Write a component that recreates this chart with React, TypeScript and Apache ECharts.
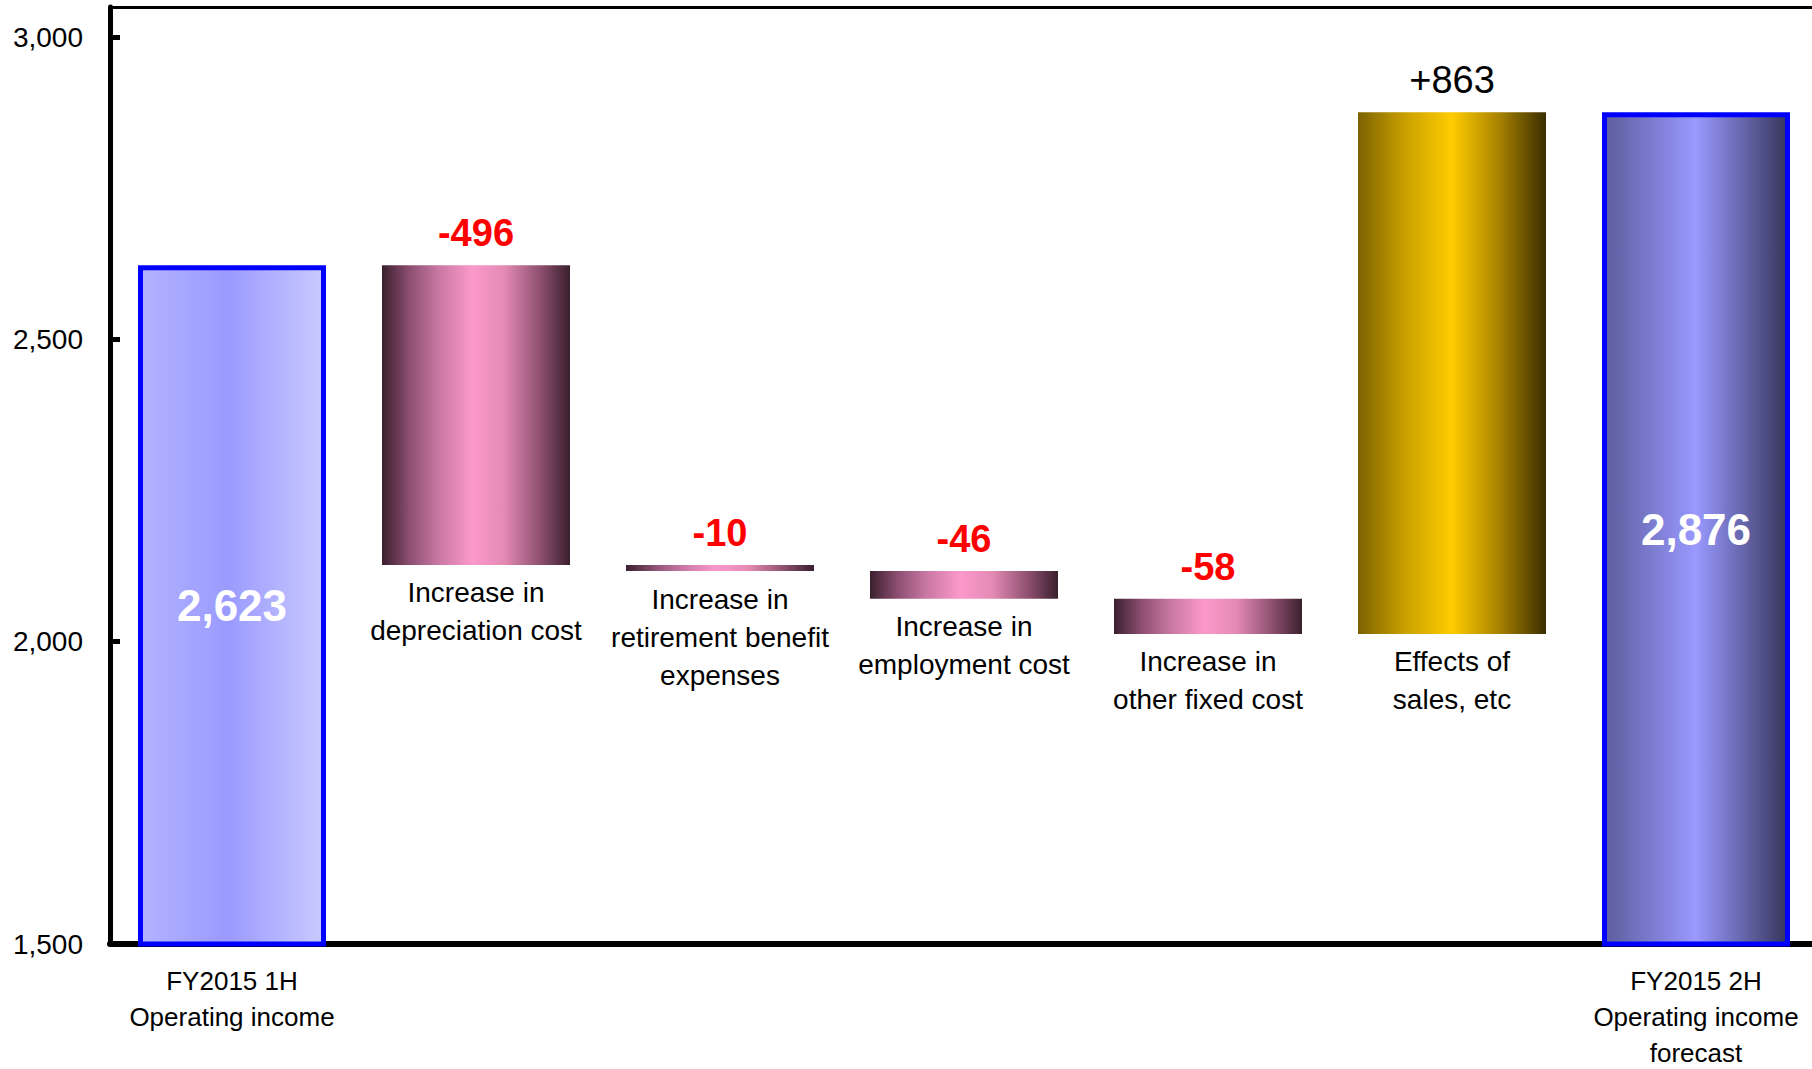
import React, { useEffect, useRef } from "react";
import * as echarts from "echarts";

const categories = [
  "FY2015 1H\nOperating income",
  "Increase in\ndepreciation cost",
  "Increase in\nretirement benefit\nexpenses",
  "Increase in\nemployment cost",
  "Increase in\nother fixed cost",
  "Effects of\nsales, etc",
  "FY2015 2H\nOperating income\nforecast",
];
const startTotal = 2623;
const deltas = [-496, -10, -46, -58, 863];
const endTotal = 2876;
const yTicks = { min: 1500, max: 3050, interval: 500 };

const lg = (stops: [number, string][]) =>
  new echarts.graphic.LinearGradient(
    0, 0, 1, 0,
    stops.map(([offset, color]) => ({ offset, color }))
  );

const pinkGrad = () =>
  lg([
    [0, "#3B1F2F"],
    [0.15, "#8E5072"],
    [0.3, "#C878A2"],
    [0.48, "#FC99CA"],
    [0.65, "#E48AB5"],
    [0.85, "#8A4D6C"],
    [1, "#3A1F2E"],
  ]);
const goldGrad = () =>
  lg([
    [0, "#7C6200"],
    [0.25, "#C9A000"],
    [0.5, "#FFCC00"],
    [0.75, "#A88200"],
    [1, "#3A2D00"],
  ]);
const total1Grad = () =>
  lg([
    [0, "#B2B3FF"],
    [0.48, "#9A9AFF"],
    [1, "#CACAFF"],
  ]);
const total2Grad = () =>
  lg([
    [0, "#5C5C9C"],
    [0.5, "#9999FF"],
    [1, "#35355C"],
  ]);

export default function App() {
  const ref = useRef<HTMLDivElement>(null);
  useEffect(() => {
    if (!ref.current) return;
    const chart = echarts.init(ref.current, null, { renderer: "svg" });
    const n = categories.length;
    const base: any[] = ["-"];
    const delta: any[] = ["-"];
    let cur = startTotal;
    deltas.forEach((d, i) => {
      const next = cur + d;
      const low = Math.min(cur, next);
      base.push({
        value: low,
        label: {
          show: true,
          position: "insideTop",
          distance: 9,
          formatter: categories[i + 1],
        },
      });
      delta.push({
        value: Math.abs(d),
        itemStyle: { color: d < 0 ? pinkGrad() : goldGrad() },
        label: {
          show: true,
          position: "top",
          distance: 12,
          color: d < 0 ? "#FF0000" : "#000000",
          fontWeight: d < 0 ? "bold" : "normal",
          formatter: d < 0 ? `-${Math.abs(d)}` : `+${d}`,
        },
      });
      cur = next;
    });
    base.push("-");
    delta.push("-");
    const totals: any[] = new Array(n).fill("-");
    totals[0] = { value: startTotal, itemStyle: { color: total1Grad() } };
    totals[n - 1] = { value: endTotal, itemStyle: { color: total2Grad() } };

    const barWidth = 188;
    const font = "Liberation Sans";

    chart.setOption({
      animation: false,
      backgroundColor: "#ffffff",
      grid: {
        left: 110,
        top: 7,
        width: 1708,
        height: 937,
        outerBoundsMode: "none",
        containLabel: false,
      },
      xAxis: [
        {
          type: "category",
          data: categories,
          position: "bottom",
          axisLine: { lineStyle: { color: "#000", width: 6 } },
          axisTick: { show: false },
          axisLabel: {
            interval: 0,
            margin: 19,
            color: "#000",
            fontFamily: font,
            fontSize: 26,
            lineHeight: 36,
            formatter: (v: string, idx: number) =>
              idx === 0 || idx === n - 1 ? v : "",
          },
        },
        {
          type: "category",
          data: categories,
          position: "top",
          axisLine: { lineStyle: { color: "#000", width: 3 } },
          axisTick: { show: false },
          axisLabel: { show: false },
        },
      ],
      yAxis: {
        type: "value",
        min: yTicks.min,
        max: yTicks.max,
        interval: yTicks.interval,
        splitLine: { show: false },
        axisLine: { show: true, lineStyle: { color: "#000", width: 5 } },
        axisTick: {
          show: true,
          inside: true,
          length: 10,
          lineStyle: { color: "#000", width: 5 },
        },
        axisLabel: {
          color: "#000",
          fontFamily: font,
          fontSize: 28,
          margin: 27,
          formatter: (v: number) => v.toLocaleString("en-US"),
          showMaxLabel: false,
        },
      },
      series: [
        {
          type: "bar",
          stack: "w",
          data: base,
          barWidth,
          barGap: "-100%",
          itemStyle: { color: "transparent" },
          label: {
            color: "#000",
            fontFamily: font,
            fontSize: 28,
            lineHeight: 38,
          },
          silent: true,
        },
        {
          type: "bar",
          stack: "w",
          data: delta,
          barWidth,
          barGap: "-100%",
          label: { fontFamily: font, fontSize: 38, lineHeight: 40 },
          silent: true,
        },
        {
          type: "bar",
          data: totals,
          barWidth,
          barGap: "-100%",
          itemStyle: { borderColor: "#0000FF", borderWidth: 5 },
          label: {
            show: true,
            position: "inside",
            color: "#FFFFFF",
            fontFamily: font,
            fontWeight: "bold",
            fontSize: 44,
            formatter: (p: any) => Number(p.value).toLocaleString("en-US"),
          },
          silent: true,
        },
      ],
    });
    return () => chart.dispose();
  }, []);
  return (
    <div
      ref={ref}
      style={{ position: "absolute", left: 0, top: 0, width: 1812, height: 1069 }}
    />
  );
}
